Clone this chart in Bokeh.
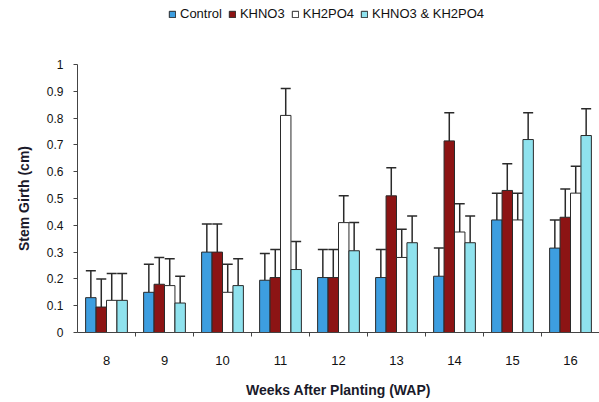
import numpy as np
from bokeh.plotting import figure
from bokeh.layouts import column
from bokeh.models import (ColumnDataSource, Range1d, FixedTicker, Whisker, TeeHead,
                          Legend, LegendItem)
from bokeh.embed import file_html
from bokeh.resources import INLINE

# ---- data ----
weeks = [8, 9, 10, 11, 12, 13, 14, 15, 16]
series_names = ["Control", "KHNO3", "KH2PO4", "KHNO3 & KH2PO4"]
control = [0.13, 0.15, 0.30, 0.195, 0.205, 0.205, 0.21, 0.42, 0.315]
khno3 = [0.095, 0.18, 0.30, 0.205, 0.205, 0.51, 0.715, 0.53, 0.43]
kh2po4 = [0.12, 0.175, 0.15, 0.81, 0.41, 0.28, 0.375, 0.42, 0.52]
combo = [0.12, 0.11, 0.175, 0.235, 0.305, 0.335, 0.335, 0.72, 0.735]
control_err = [0.10, 0.105, 0.105, 0.10, 0.105, 0.105, 0.105, 0.10, 0.105]
khno3_err = [0.105, 0.10, 0.105, 0.105, 0.105, 0.105, 0.105, 0.10, 0.105]
kh2po4_err = [0.10, 0.10, 0.105, 0.10, 0.10, 0.105, 0.105, 0.10, 0.10]
combo_err = [0.10, 0.10, 0.10, 0.105, 0.105, 0.10, 0.10, 0.10, 0.10]
y_ticks = [0, 0.1, 0.2, 0.3, 0.4, 0.5, 0.6, 0.7, 0.8, 0.9, 1.0]
y_tick_labels = ["0", "0.1", "0.2", "0.3", "0.4", "0.5", "0.6", "0.7", "0.8", "0.9", "1"]

values = [control, khno3, kh2po4, combo]
errors = [control_err, khno3_err, kh2po4_err, combo_err]
colors = ["#3d9ee0", "#8c1414", "#ffffff", "#8fe2ee"]

FONT = "Liberation Sans"
EDGE = "#2a2a2a"
bar_w = 0.18
offsets = [-1.5 * bar_w, -0.5 * bar_w, 0.5 * bar_w, 1.5 * bar_w]

# ---- legend strip (its bars sit outside its view; only the legend shows) ----
lg = figure(width=599, height=30, output_backend="svg", toolbar_location=None,
            x_range=Range1d(7.5, 16.5), y_range=Range1d(5, 6),
            min_border_left=77, min_border_right=0, min_border_top=0, min_border_bottom=0)
lg.axis.visible = False
lg.grid.visible = False
lg.outline_line_color = None

# ---- main chart ----
p = figure(width=599, height=370, output_backend="svg", toolbar_location=None,
           x_range=Range1d(7.5, 16.5), y_range=Range1d(0, 1),
           min_border_left=77, min_border_right=0, min_border_top=34, min_border_bottom=65)
p.outline_line_color = None
p.xgrid.grid_line_color = None
p.ygrid.grid_line_color = None
p.background_fill_color = "white"

items = []
for name, vals, errs, col, off in zip(series_names, values, errors, colors, offsets):
    x = np.array(weeks, dtype=float) + off
    v = np.array(vals)
    e = np.array(errs)
    src = ColumnDataSource(dict(x=x, top=v, upper=v + e))
    p.vbar(x="x", top="top", width=bar_w, source=src, fill_color=col,
           line_color=EDGE, line_width=1)
    w = Whisker(base="x", lower="top", upper="upper", source=src, dimension="height",
                line_color=EDGE, line_width=1.5,
                upper_head=TeeHead(size=10, line_color=EDGE, line_width=1.5),
                lower_head=None)
    p.add_layout(w)
    dummy = lg.vbar(x="x", top="top", width=bar_w, source=src, fill_color=col,
                    line_color=EDGE, line_width=1)
    items.append(LegendItem(label=name, renderers=[dummy]))

legend = Legend(items=items, orientation="horizontal", location=(91, 9),
                border_line_color=None, background_fill_alpha=0,
                padding=0, margin=0, spacing=6, glyph_width=8, glyph_height=8,
                label_standoff=4, label_text_font=FONT, label_text_font_size="13px",
                label_text_color="#111111", label_height=12)
lg.add_layout(legend, "center")

# x axis
xa = p.xaxis[0]
xa.ticker = FixedTicker(ticks=weeks, minor_ticks=[w + 0.5 for w in weeks[:-1]])
xa.major_tick_line_color = None
xa.major_tick_out = 0
xa.major_tick_in = 0
xa.minor_tick_out = 4
xa.minor_tick_in = 0
xa.minor_tick_line_color = "#444444"
xa.axis_line_color = "#444444"
xa.major_label_standoff = 19
xa.major_label_text_font = FONT
xa.major_label_text_font_size = "13px"
xa.major_label_text_color = "#111111"
xa.axis_label = "Weeks After Planting (WAP)"
xa.axis_label_text_font = FONT
xa.axis_label_text_font_style = "bold"
xa.axis_label_text_font_size = "14px"
xa.axis_label_text_color = "#1a1a2a"
xa.axis_label_standoff = 14

ya = p.yaxis[0]
ya.ticker = FixedTicker(ticks=y_ticks, minor_ticks=[])
ya.major_label_overrides = {t: l for t, l in zip(y_ticks, y_tick_labels)}
ya.major_tick_out = 4
ya.major_tick_in = 0
ya.major_tick_line_color = "#444444"
ya.axis_line_color = "#444444"
ya.major_label_standoff = 10
ya.major_label_text_font = FONT
ya.major_label_text_font_size = "12px"
ya.major_label_text_color = "#111111"
ya.axis_label = "Stem Girth (cm)"
ya.axis_label_text_font = FONT
ya.axis_label_text_font_style = "bold"
ya.axis_label_text_font_size = "14px"
ya.axis_label_text_color = "#1a1a2a"
ya.axis_label_standoff = 12

layout = column(lg, p, spacing=0)
open("out.html", "w").write(file_html(layout, INLINE))
